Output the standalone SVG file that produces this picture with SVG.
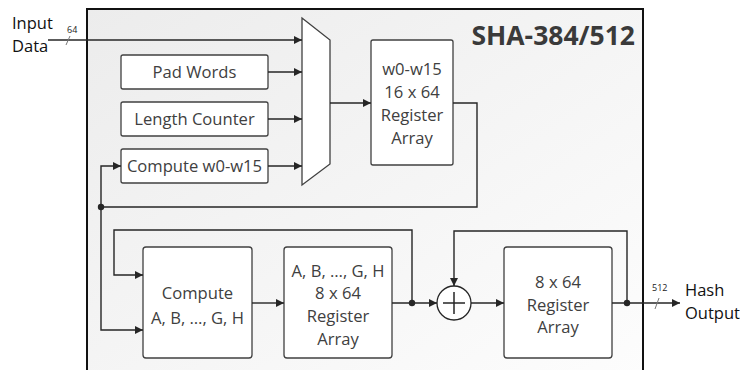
<svg xmlns="http://www.w3.org/2000/svg" width="740" height="370" viewBox="0 0 740 370">
<defs>
<linearGradient id="bg" x1="0" y1="0" x2="1" y2="1">
<stop offset="0" stop-color="#ececec"/>
<stop offset="1" stop-color="#fdfdfd"/>
</linearGradient>
<marker id="arr" viewBox="0 0 10 10" refX="10" refY="5" markerWidth="9" markerHeight="8" markerUnits="userSpaceOnUse" orient="auto">
<path d="M0,0 L10,5 L0,10 z" fill="#262626"/>
</marker>
<style>
.box{fill:#fff;stroke:#404040;stroke-width:1.3}
.t{font-family:"Open Sans","Liberation Sans",sans-serif;font-size:16.6px;fill:#404040;text-anchor:middle}
.ext{font-family:"Open Sans","Liberation Sans",sans-serif;font-size:16.5px;fill:#111}
.sm{font-family:"Open Sans","Liberation Sans",sans-serif;font-size:9px;fill:#222}
.ln{fill:none;stroke:#262626;stroke-width:1.4}
.a{marker-end:url(#arr)}
.dot{fill:#262626}
</style>
</defs>
<rect id="frame" x="87" y="9" width="556" height="370" fill="url(#bg)" stroke="#111" stroke-width="2"/>
<text x="635" y="45" style="font-family:'Open Sans','Liberation Sans',sans-serif;font-weight:bold;font-size:26.5px;fill:#3a3a3a;text-anchor:end">SHA-384/512</text>

<g id="input-label">
<text class="ext" x="12" y="29">Input</text>
<text class="ext" x="12" y="52">Data</text>
<text class="sm" x="67" y="33">64</text>
</g>
<g id="pad-words"><rect class="box" x="121" y="55" width="147" height="34" rx="2"/><text class="t" x="194.5" y="78">Pad Words</text></g>
<g id="length-counter"><rect class="box" x="121" y="102" width="147" height="34" rx="2"/><text class="t" x="194.5" y="125">Length Counter</text></g>
<g id="compute-w"><rect class="box" x="121" y="149" width="147" height="34" rx="2"/><text class="t" x="194.5" y="172">Compute w0-w15</text></g>
<g id="mux"><path d="M302,18 L330,40 L330,164 L302,185 Z" fill="#fff" stroke="#404040" stroke-width="1.3"/></g>
<g id="w-reg"><rect class="box" x="371" y="40" width="82" height="125" rx="2"/>
<text class="t" x="412" y="75">w0-w15</text><text class="t" x="412" y="98">16 x 64</text><text class="t" x="412" y="121">Register</text><text class="t" x="412" y="144">Array</text></g>
<g id="compute-abc"><rect class="box" x="143" y="247" width="109" height="111" rx="3"/>
<text class="t" x="197.5" y="299">Compute</text><text class="t" x="197.5" y="324">A, B, …, G, H</text></g>
<g id="abc-reg"><rect class="box" x="284" y="247" width="108" height="111" rx="3"/>
<text class="t" x="338" y="277">A, B, …, G, H</text><text class="t" x="338" y="299">8 x 64</text><text class="t" x="338" y="322">Register</text><text class="t" x="338" y="345">Array</text></g>
<g id="adder"><circle cx="454" cy="303" r="17" fill="#fff" stroke="#262626" stroke-width="1.3"/>
<path d="M443,303 H465 M454,292 V314" stroke="#262626" stroke-width="1.5"/></g>
<g id="out-reg"><rect class="box" x="504" y="247" width="108" height="111" rx="3"/>
<text class="t" x="558" y="288">8 x 64</text><text class="t" x="558" y="311">Register</text><text class="t" x="558" y="333">Array</text></g>
<g id="output-label">
<text class="ext" x="685" y="296">Hash</text>
<text class="ext" x="685" y="319">Output</text>
<text class="sm" x="652" y="291">512</text>
</g>

<g id="connectors">
<path class="ln a" d="M48,40 H302"/>
<path d="M66,45 L70,36" stroke="#777" stroke-width="1"/>
<path class="ln a" d="M268,72 H302"/>
<path class="ln a" d="M268,119 H302"/>
<path class="ln a" d="M268,166 H302"/>
<path class="ln a" d="M330,103 H371"/>
<path class="ln" d="M453,103 H477 V207 H101"/>
<path class="ln a" d="M101,207 V166 H121"/>
<path class="ln a" d="M101,207 V330 H143"/>
<circle class="dot" cx="101" cy="207" r="3.2"/>
<path class="ln a" d="M412,303 V230 H114 V275 H143"/>
<path class="ln a" d="M252,303 H284"/>
<path class="ln a" d="M392,303 H437"/>
<circle class="dot" cx="412" cy="303" r="3.2"/>
<path class="ln a" d="M471,303 H504"/>
<path class="ln a" d="M612,303 H680"/>
<path class="ln a" d="M627,303 V231 H454 V286"/>
<circle class="dot" cx="627" cy="303" r="3.2"/>
<path d="M655,309 L659,298" stroke="#777" stroke-width="1"/>
</g>
</svg>
